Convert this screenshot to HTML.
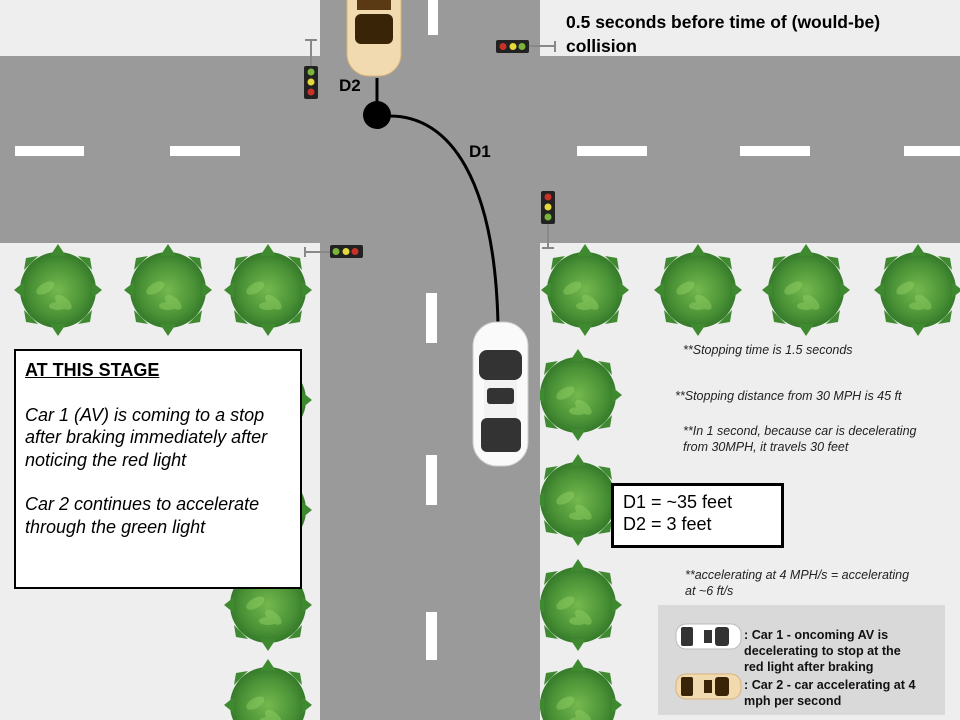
<!DOCTYPE html>
<html><head><meta charset="utf-8"><style>
body{margin:0;width:960px;height:720px;overflow:hidden;background:#eeeeee;font-family:"Liberation Sans",sans-serif;position:relative}
div{position:absolute;box-sizing:border-box}
.t{white-space:nowrap}
</style></head><body>
<svg width="960" height="720" style="position:absolute;left:0;top:0">
<defs>
<radialGradient id="bg" cx="50%" cy="50%" r="50%"><stop offset="0" stop-color="#74b84e"/><stop offset="0.7" stop-color="#4a9236"/><stop offset="1" stop-color="#357a2a"/></radialGradient>
<g id="bush"><circle r="38" fill="url(#bg)"/><g fill="#3f8a30"><polygon points="-44,0 -34,-8 -34,8"/><polygon points="44,0 34,-8 34,8"/><polygon points="0,-46 -8,-34 8,-34"/><polygon points="0,46 -8,34 8,34"/><polygon points="-32,-32 -20,-34 -34,-20"/><polygon points="32,-32 20,-34 34,-20"/><polygon points="-32,32 -20,34 -34,20"/><polygon points="32,32 20,34 34,20"/></g><g fill="#8fcf62" opacity=".5"><ellipse cx="-10" cy="-8" rx="10" ry="5" transform="rotate(-30)"/><ellipse cx="12" cy="6" rx="10" ry="5" transform="rotate(40)"/><ellipse cx="0" cy="16" rx="9" ry="4"/></g></g>
</defs>
<rect x="0" y="56" width="960" height="187" fill="#9a9a9a"/>
<rect x="320" y="0" width="220" height="720" fill="#9a9a9a"/>
<g fill="#fff">
<rect x="15" y="146" width="69" height="10"/><rect x="170" y="146" width="70" height="10"/>
<rect x="577" y="146" width="70" height="10"/><rect x="740" y="146" width="70" height="10"/><rect x="904" y="146" width="56" height="10"/>
<rect x="428" y="0" width="10" height="35"/>
</g>
<use href="#bush" x="58" y="290"/><use href="#bush" x="168" y="290"/><use href="#bush" x="268" y="290"/>
<use href="#bush" x="268" y="400"/><use href="#bush" x="268" y="510"/><use href="#bush" x="268" y="605"/><use href="#bush" x="268" y="705"/>
<use href="#bush" x="585" y="290"/><use href="#bush" x="698" y="290"/><use href="#bush" x="806" y="290"/><use href="#bush" x="918" y="290"/>
<use href="#bush" x="578" y="395"/><use href="#bush" x="578" y="500"/><use href="#bush" x="578" y="605"/><use href="#bush" x="578" y="705"/>
<rect x="320" y="243" width="220" height="477" fill="#9a9a9a"/>
<g fill="#fff"><rect x="426" y="293" width="11" height="50"/><rect x="426" y="455" width="11" height="50"/><rect x="426" y="612" width="11" height="48"/></g>
<g stroke="#888" stroke-width="2" fill="none"><line x1="311" y1="40" x2="311" y2="68"/><line x1="305" y1="40" x2="317" y2="40"/>
<line x1="528" y1="46" x2="555" y2="46"/><line x1="555" y1="41" x2="555" y2="52"/>
<line x1="548" y1="222" x2="548" y2="248"/><line x1="542" y1="248" x2="554" y2="248"/>
<line x1="305" y1="252" x2="330" y2="252"/><line x1="305" y1="247" x2="305" y2="257"/></g>
<rect x="304" y="66" width="14" height="33" rx="2" fill="#222"/><circle cx="311" cy="72" r="3.5" fill="#7ab53a"/><circle cx="311" cy="82" r="3.5" fill="#e5d83a"/><circle cx="311" cy="92" r="3.5" fill="#c83228"/>
<rect x="496" y="40" width="33" height="13" rx="2" fill="#222"/><circle cx="503" cy="46.5" r="3.5" fill="#c83228"/><circle cx="513" cy="46.5" r="3.5" fill="#e5d83a"/><circle cx="522" cy="46.5" r="3.5" fill="#7ab53a"/>
<rect x="541" y="191" width="14" height="33" rx="2" fill="#222"/><circle cx="548" cy="197" r="3.5" fill="#c83228"/><circle cx="548" cy="207" r="3.5" fill="#e5d83a"/><circle cx="548" cy="217" r="3.5" fill="#7ab53a"/>
<rect x="330" y="245" width="33" height="13" rx="2" fill="#222"/><circle cx="336" cy="251.5" r="3.5" fill="#7ab53a"/><circle cx="346" cy="251.5" r="3.5" fill="#e5d83a"/><circle cx="355" cy="251.5" r="3.5" fill="#c83228"/>
<g><rect x="347" y="-40" width="54" height="116" rx="22" fill="#f1d9b0" stroke="#d9b47a"/><rect x="355" y="14" width="38" height="30" rx="6" fill="#3a2408"/><rect x="357" y="-20" width="34" height="30" fill="#5a3a14"/></g>
<line x1="377" y1="78" x2="377" y2="104" stroke="#000" stroke-width="3"/>
<path d="M390 116 C 450 116 495 180 498 325" fill="none" stroke="#000" stroke-width="3"/>
<circle cx="377" cy="115" r="14" fill="#000"/>
<g><rect x="473" y="322" width="55" height="144" rx="24" fill="#fafafa" stroke="#ccc"/><rect x="479" y="350" width="43" height="30" rx="8" fill="#333"/><rect x="484" y="380" width="33" height="40" fill="#f2f2f2"/><rect x="487" y="388" width="27" height="16" rx="3" fill="#333"/><rect x="481" y="418" width="40" height="34" rx="6" fill="#333"/></g>
<rect x="658" y="605" width="287" height="110" fill="#d9d9d9"/>
<g><rect x="676" y="624" width="65" height="25" rx="10" fill="#fff" stroke="#bbb"/><rect x="681" y="627" width="12" height="19" rx="2" fill="#333"/><rect x="704" y="630" width="8" height="13" fill="#333"/><rect x="715" y="627" width="14" height="19" rx="3" fill="#333"/></g>
<g><rect x="676" y="674" width="65" height="25" rx="10" fill="#f1d9b0" stroke="#d9b47a"/><rect x="681" y="677" width="12" height="19" rx="2" fill="#3a2408"/><rect x="704" y="680" width="8" height="13" fill="#3a2408"/><rect x="715" y="677" width="14" height="19" rx="3" fill="#3a2408"/></g>
</svg>
<div class="t" style="left:566px;top:10px;font-size:17.5px;font-weight:bold;line-height:24px">0.5 seconds before time of (would-be)<br>collision</div>
<div class="t" style="left:339px;top:76px;font-size:17px;font-weight:bold">D2</div>
<div class="t" style="left:469px;top:142px;font-size:17px;font-weight:bold">D1</div>
<div style="left:14px;top:349px;width:288px;height:240px;background:#fff;border:2px solid #000;padding:8px 0 0 9px;font-size:18px;line-height:22.5px">
<div class="t" style="position:static;font-weight:bold;text-decoration:underline">AT THIS STAGE</div>
<div class="t" style="position:static;font-style:italic;margin-top:22px">Car 1 (AV) is coming to a stop<br>after braking immediately after<br>noticing the red light</div>
<div class="t" style="position:static;font-style:italic;margin-top:22px">Car 2 continues to accelerate<br>through the green light</div>
</div>
<div class="t" style="left:683px;top:343px;font-size:12.5px;font-style:italic;color:#222">**Stopping time is 1.5 seconds</div>
<div class="t" style="left:675px;top:389px;font-size:12.5px;font-style:italic;color:#222">**Stopping distance from 30 MPH is 45 ft</div>
<div class="t" style="left:683px;top:423px;font-size:12.5px;font-style:italic;color:#222;line-height:16px">**In 1 second, because car is decelerating<br>from 30MPH, it travels 30 feet</div>
<div style="left:611px;top:483px;width:173px;height:65px;background:#fff;border:3px solid #000;padding:5px 0 0 9px;font-size:18px;line-height:22px" class="t">D1 = ~35 feet<br>D2 = 3 feet</div>
<div class="t" style="left:685px;top:567px;font-size:12.5px;font-style:italic;color:#222;line-height:16px">**accelerating at 4 MPH/s = accelerating<br>at ~6 ft/s</div>
<div class="t" style="left:744px;top:627px;font-size:12.6px;font-weight:bold;line-height:16px;color:#111">: Car 1 - oncoming AV is<br>decelerating to stop at the<br>red light after braking</div>
<div class="t" style="left:744px;top:677px;font-size:12.6px;font-weight:bold;line-height:16px;color:#111">: Car 2 - car accelerating at 4<br>mph per second</div>
</body></html>
